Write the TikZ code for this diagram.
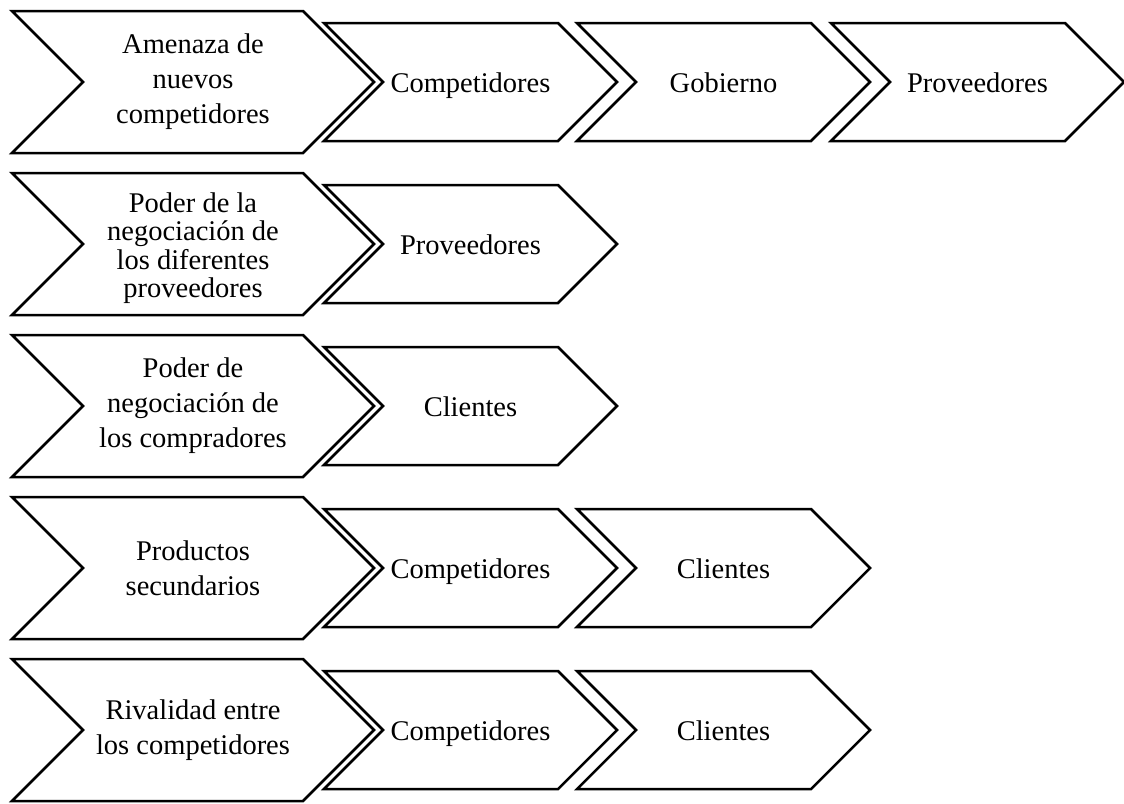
\documentclass[tikz,border=0pt]{standalone}
\usepackage{fontspec}
\setmainfont{Liberation Serif}
\begin{document}
\begin{tikzpicture}[x=1pt, y=-1pt]
\tikzstyle{chev}=[draw, fill=white, line width=2.5pt, line join=miter]
\tikzstyle{txt}=[align=center, inner sep=0pt, font=\fontsize{28.5}{35}\selectfont]
\tikzstyle{tighttxt}=[txt, font=\fontsize{28.5}{28.5}\selectfont]
\tikzstyle{onetxt}=[txt, text height=20pt, text depth=0pt]
\useasboundingbox (0,0) rectangle (1124,803);
% fila 1
\draw[chev] (12,11) -- ++(291,0) -- ++(71,71) -- ++(-71,71) -- ++(-291,0) -- ++(71,-71) -- cycle;
\draw[chev] (324,23) -- ++(234,0) -- ++(59,59) -- ++(-59,59) -- ++(-234,0) -- ++(59,-59) -- cycle;
\draw[chev] (577,23) -- ++(234,0) -- ++(59,59) -- ++(-59,59) -- ++(-234,0) -- ++(59,-59) -- cycle;
\draw[chev] (831,23) -- ++(234,0) -- ++(59,59) -- ++(-59,59) -- ++(-234,0) -- ++(59,-59) -- cycle;
\node[txt] (f1o0) at (193,82) {Amenaza de\\nuevos\\competidores};
\node[onetxt] (f1o1) at (470.5,82) {Competidores};
\node[onetxt] (f1o2) at (723.5,82) {Gobierno};
\node[onetxt] (f1o3) at (977.5,82) {Proveedores};
% fila 2
\draw[chev] (12,173) -- ++(291,0) -- ++(71,71) -- ++(-71,71) -- ++(-291,0) -- ++(71,-71) -- cycle;
\draw[chev] (324,185) -- ++(234,0) -- ++(59,59) -- ++(-59,59) -- ++(-234,0) -- ++(59,-59) -- cycle;
\node[tighttxt] (f2o0) at (193,248) {Poder de la\\negociación de\\los diferentes\\proveedores};
\node[onetxt] (f2o1) at (470.5,244) {Proveedores};
% fila 3
\draw[chev] (12,335) -- ++(291,0) -- ++(71,71) -- ++(-71,71) -- ++(-291,0) -- ++(71,-71) -- cycle;
\draw[chev] (324,347) -- ++(234,0) -- ++(59,59) -- ++(-59,59) -- ++(-234,0) -- ++(59,-59) -- cycle;
\node[txt] (f3o0) at (193,406) {Poder de\\negociación de\\los compradores};
\node[onetxt] (f3o1) at (470.5,406) {Clientes};
% fila 4
\draw[chev] (12,497) -- ++(291,0) -- ++(71,71) -- ++(-71,71) -- ++(-291,0) -- ++(71,-71) -- cycle;
\draw[chev] (324,509) -- ++(234,0) -- ++(59,59) -- ++(-59,59) -- ++(-234,0) -- ++(59,-59) -- cycle;
\draw[chev] (577,509) -- ++(234,0) -- ++(59,59) -- ++(-59,59) -- ++(-234,0) -- ++(59,-59) -- cycle;
\node[txt] (f4o0) at (193,568) {Productos\\secundarios};
\node[onetxt] (f4o1) at (470.5,568) {Competidores};
\node[onetxt] (f4o2) at (723.5,568) {Clientes};
% fila 5
\draw[chev] (12,659) -- ++(291,0) -- ++(71,71) -- ++(-71,71) -- ++(-291,0) -- ++(71,-71) -- cycle;
\draw[chev] (324,671) -- ++(234,0) -- ++(59,59) -- ++(-59,59) -- ++(-234,0) -- ++(59,-59) -- cycle;
\draw[chev] (577,671) -- ++(234,0) -- ++(59,59) -- ++(-59,59) -- ++(-234,0) -- ++(59,-59) -- cycle;
\node[txt] (f5o0) at (193,730) {Rivalidad entre\\los competidores};
\node[onetxt] (f5o1) at (470.5,730) {Competidores};
\node[onetxt] (f5o2) at (723.5,730) {Clientes};
\end{tikzpicture}
\end{document}
